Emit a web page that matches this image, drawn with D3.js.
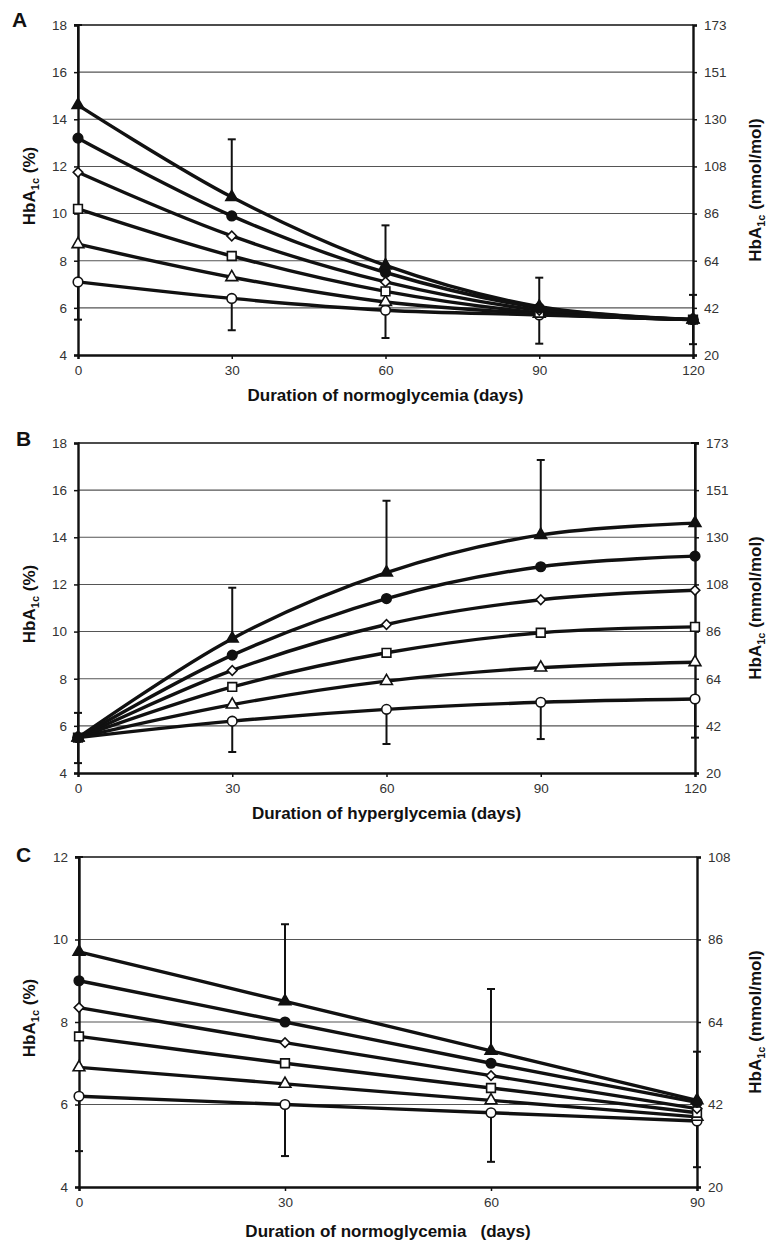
<!DOCTYPE html>
<html>
<head>
<meta charset="utf-8">
<script src="https://cdn.jsdelivr.net/npm/d3@7"></script>
<style>
  body { margin: 0; background: #fff; }
  svg { display: block; }
</style>
</head>
<body>
<div id="chart"></div>
<script>
// ---- data ----
var pctTicks = [4, 6, 8, 10, 12, 14, 16, 18];
var mmolTicks = ["20", "42", "64", "86", "108", "130", "151", "173"];
var pctTicksC = [4, 6, 8, 10, 12];
var mmolTicksC = ["20", "42", "64", "86", "108"];

// panel A: normoglycemia after hyperglycemia
var daysA = [0, 30, 60, 90, 120];
var aFilledTri = [14.6, 10.7, 7.8, 6.05, 5.5];
var aFilledCircle = [13.2, 9.9, 7.5, 6.0, 5.5];
var aDiamond = [11.75, 9.05, 7.1, 5.9, 5.5];
var aSquare = [10.2, 8.2, 6.7, 5.8, 5.5];
var aOpenTri = [8.7, 7.3, 6.25, 5.75, 5.5];
var aOpenCircle = [7.1, 6.4, 5.9, 5.7, 5.5];
var aErrUp = [18, 13.15, 9.5, 7.28, 6.55];
var aErrLow = [5.5, 5.05, 4.72, 4.48, 4.46];

// panel B: hyperglycemia
var daysB = [0, 30, 60, 90, 120];
var bFilledTri = [5.5, 9.7, 12.5, 14.1, 14.6];
var bFilledCircle = [5.5, 9.0, 11.4, 12.75, 13.2];
var bDiamond = [5.5, 8.35, 10.3, 11.35, 11.75];
var bSquare = [5.5, 7.65, 9.1, 9.95, 10.2];
var bOpenTri = [5.5, 6.9, 7.9, 8.47, 8.7];
var bOpenCircle = [5.5, 6.2, 6.7, 7.0, 7.14];
var bErrUp = [6.55, 11.86, 15.55, 17.28, 18];
var bErrLow = [4.42, 4.89, 5.23, 5.44, 5.5];

// panel C: normoglycemia after 30 days hyperglycemia
var daysC = [0, 30, 60, 90];
var cFilledTri = [9.7, 8.5, 7.3, 6.1];
var cFilledCircle = [9.0, 8.0, 7.0, 6.05];
var cDiamond = [8.35, 7.5, 6.7, 5.9];
var cSquare = [7.65, 7.0, 6.4, 5.8];
var cOpenTri = [6.9, 6.5, 6.1, 5.7];
var cOpenCircle = [6.2, 6.0, 5.8, 5.6];
var cErrUp = [12, 10.37, 8.8, 7.28];
var cErrLow = [4.87, 4.75, 4.61, 4.48];

var markerKinds = ["filledTri", "filledCircle", "diamond", "square", "openTri", "openCircle"];

function Chart() {
    var self = this;
    this.width = 768;
    this.height = 1244;
    this.svg = d3.select("#chart").append("svg")
        .attr("width", this.width).attr("height", this.height)
        .attr("font-family", "Arial, 'Liberation Sans', sans-serif");

    this.marker = function (g, kind, x, y) {
        var filled = kind.indexOf("filled") === 0;
        var type, size, rot = 0;
        if (kind === "filledTri" || kind === "openTri") { type = d3.symbolTriangle; size = 60; }
        else if (kind === "filledCircle" || kind === "openCircle") { type = d3.symbolCircle; size = 72; }
        else if (kind === "square") { type = d3.symbolSquare; size = 76; }
        else { type = d3.symbolSquare; size = 46; rot = 45; }
        g.append("path")
            .attr("d", d3.symbol().type(type).size(size)())
            .attr("transform", "translate(" + x + "," + y + ") rotate(" + rot + ")")
            .attr("fill", filled ? "#111" : "#fff")
            .attr("stroke", "#111")
            .attr("stroke-width", 1.6);
    };

    this.yTitle = function (g, x, y, rest) {
        var t = g.append("text")
            .attr("transform", "translate(" + x + "," + y + ") rotate(-90)")
            .attr("text-anchor", "middle")
            .attr("font-weight", "bold")
            .attr("font-size", 17)
            .attr("fill", "#111");
        t.append("tspan").text("HbA");
        t.append("tspan").attr("dy", 4).attr("font-size", 11).text("1c");
        t.append("tspan").attr("dy", -4).text(rest);
    };

    this.panel = function (p) {
        var g = self.svg.append("g");
        var x = d3.scaleLinear().domain([0, p.days[p.days.length - 1]]).range([p.left, p.right]);
        var y = d3.scaleLinear().domain([p.yTicks[0], p.yTicks[p.yTicks.length - 1]]).range([p.bottom, p.top]);

        // gridlines
        g.selectAll(".grid").data(p.yTicks.slice(1)).enter().append("line")
            .attr("x1", p.left).attr("x2", p.right)
            .attr("y1", function (d) { return y(d); }).attr("y2", function (d) { return y(d); })
            .attr("stroke", function (d, i) { return i === p.yTicks.length - 2 ? "#111" : "#555"; })
            .attr("stroke-width", function (d, i) { return i === p.yTicks.length - 2 ? 1.6 : 1.1; });

        // axes
        var left = d3.axisLeft(y).tickValues(p.yTicks).tickSize(4).tickPadding(7);
        var right = d3.axisRight(y).tickValues(p.yTicks).tickSize(4).tickPadding(7)
            .tickFormat(function (d, i) { return p.mmol[i]; });
        var bottom = d3.axisBottom(x).tickValues(p.days).tickSize(4).tickPadding(6);
        [[left, "translate(" + p.left + ",0)"], [right, "translate(" + p.right + ",0)"],
         [bottom, "translate(0," + p.bottom + ")"]].forEach(function (a) {
            var ag = g.append("g").attr("transform", a[1]).call(a[0]);
            ag.select(".domain").attr("stroke", "#111").attr("stroke-width", 2.4);
            ag.selectAll(".tick line").attr("stroke", "#111").attr("stroke-width", 1.5);
            ag.selectAll(".tick text").attr("font-size", 13.5).attr("fill", "#333")
                .attr("font-family", "Arial, 'Liberation Sans', sans-serif");
        });

        // error bars
        var cap = 4;
        p.days.forEach(function (d, i) {
            var top = p.series[0][i], bot = p.series[5][i];
            [[top, p.errUp[i]], [bot, p.errLow[i]]].forEach(function (e) {
                g.append("line").attr("x1", x(d)).attr("x2", x(d))
                    .attr("y1", y(e[0])).attr("y2", y(e[1]))
                    .attr("stroke", "#111").attr("stroke-width", 2);
                g.append("line").attr("x1", x(d) - cap).attr("x2", x(d) + cap)
                    .attr("y1", y(e[1])).attr("y2", y(e[1]))
                    .attr("stroke", "#111").attr("stroke-width", 2);
            });
        });

        // lines
        var line = d3.line()
            .x(function (d, i) { return x(p.days[i]); })
            .y(function (d) { return y(d); })
            .curve(d3.curveCatmullRom.alpha(0.5));
        p.series.forEach(function (s) {
            g.append("path").attr("d", line(s)).attr("fill", "none")
                .attr("stroke", "#111").attr("stroke-width", 3.4);
        });

        // markers (open ones first, filled on top)
        for (var k = p.series.length - 1; k >= 0; k--) {
            p.series[k].forEach(function (v, i) {
                self.marker(g, markerKinds[k], x(p.days[i]), y(v));
            });
        }

        // titles
        g.append("text").attr("x", p.letterX).attr("y", p.letterY)
            .attr("font-weight", "bold").attr("font-size", 21).attr("fill", "#111").text(p.letter);
        g.append("text").attr("x", (p.left + p.right) / 2).attr("y", p.xTitleY)
            .attr("text-anchor", "middle").attr("font-weight", "bold").attr("font-size", 17)
            .attr("fill", "#111").attr("xml:space", "preserve").text(p.xTitle);
        self.yTitle(g, 35, (p.top + p.bottom) / 2 - 4, " (%)");
        self.yTitle(g, 761, (p.top + p.bottom) / 2, " (mmol/mol)");
    };

    this.panel({
        letter: "A", letterX: 12, letterY: 27,
        left: 78, right: 693, top: 25, bottom: 355, xTitleY: 401,
        days: daysA, yTicks: pctTicks, mmol: mmolTicks,
        series: [aFilledTri, aFilledCircle, aDiamond, aSquare, aOpenTri, aOpenCircle],
        errUp: aErrUp, errLow: aErrLow,
        xTitle: "Duration of normoglycemia (days)"
    });
    this.panel({
        letter: "B", letterX: 16, letterY: 446,
        left: 78, right: 695, top: 443, bottom: 773, xTitleY: 819,
        days: daysB, yTicks: pctTicks, mmol: mmolTicks,
        series: [bFilledTri, bFilledCircle, bDiamond, bSquare, bOpenTri, bOpenCircle],
        errUp: bErrUp, errLow: bErrLow,
        xTitle: "Duration of hyperglycemia (days)"
    });
    this.panel({
        letter: "C", letterX: 16, letterY: 862,
        left: 79, right: 697, top: 857, bottom: 1187, xTitleY: 1237,
        days: daysC, yTicks: pctTicksC, mmol: mmolTicksC,
        series: [cFilledTri, cFilledCircle, cDiamond, cSquare, cOpenTri, cOpenCircle],
        errUp: cErrUp, errLow: cErrLow,
        xTitle: "Duration of normoglycemia   (days)"
    });
}

document.addEventListener("DOMContentLoaded", function () {
    new Chart();
});
</script>
</body>
</html>
